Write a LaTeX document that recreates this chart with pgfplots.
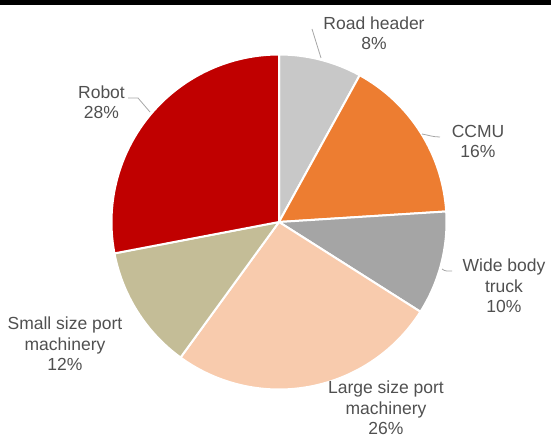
\documentclass[border=0pt]{standalone}
\usepackage{pgfplots}
\pgfplotsset{compat=1.18}
\usepackage{pgfplotstable}
\usepackage{fontspec}
\setmainfont{Liberation Sans}

\definecolor{roadheader}{HTML}{C8C8C8}
\definecolor{ccmu}{HTML}{ED7D31}
\definecolor{widebody}{HTML}{A5A5A5}
\definecolor{largeport}{HTML}{F8CBAD}
\definecolor{smallport}{HTML}{C4BD97}
\definecolor{robot}{HTML}{C00000}
\definecolor{labeltext}{HTML}{505050}
\definecolor{leader}{HTML}{A6A6A6}

% share of each machine segment, in per cent, clockwise from twelve o'clock
\pgfplotstableread[col sep=comma]{
segment,share,colour
Road header,8,roadheader
CCMU,16,ccmu
Wide body truck,10,widebody
Large size port machinery,26,largeport
Small size port machinery,12,smallport
Robot,28,robot
}\sharedata

\begin{document}
\begin{tikzpicture}
\useasboundingbox (0,0) rectangle (551pt,434pt);
\begin{axis}[
  at={(0,0)}, anchor=south west,
  scale only axis, width=551pt, height=434pt,
  xmin=0, xmax=551, ymin=0, ymax=434,
  hide axis, clip=false,
]
  % rule across the top
  \fill[black] (axis cs:0,429) rectangle (axis cs:551,434);

  % pie slices built from the shares
  \pgfmathsetmacro\startangle{90}
  \pgfplotsforeachungrouped \r in {0,1,2,3,4,5}{%
    \pgfplotstablegetelem{\r}{share}\of\sharedata
    \pgfmathsetmacro\endangle{\startangle-3.6*\pgfplotsretval}%
    \pgfplotstablegetelem{\r}{colour}\of\sharedata
    \edef\slice{\noexpand\fill[\pgfplotsretval, draw=white, line width=2pt, line join=round]
      (axis cs:279,212) -- ++(\startangle:167.5pt)
      arc[start angle=\startangle, end angle=\endangle, radius=167.5pt] -- cycle;}%
    \slice
    \global\let\startangle\endangle
  }

  % leader lines
  \draw[leader, line width=0.8pt] (axis cs:312,405) -- (axis cs:321,376);
  \draw[leader, line width=0.8pt] (axis cs:422,300) to[out=-10,in=180] (axis cs:440,297);
  \draw[leader, line width=0.8pt] (axis cs:442,165) to[out=-40,in=180] (axis cs:452,163);
  \draw[leader, line width=0.8pt] (axis cs:128,336) -- (axis cs:138,336) -- (axis cs:150,322);

  % data labels
  \begin{scope}[every node/.style={align=center, inner sep=0pt, text=labeltext,
      font=\fontsize{17.5}{20.5}\selectfont}]
    \node at (axis cs:374,401) {Road header\\8\%};
    \node at (axis cs:478,292.5) {CCMU\\16\%};
    \node at (axis cs:504,148) {Wide body\\truck\\10\%};
    \node at (axis cs:386,26) {Large size port\\machinery\\26\%};
    \node at (axis cs:65,90) {Small size port\\machinery\\12\%};
    \node at (axis cs:101.5,332) {Robot\\28\%};
  \end{scope}
\end{axis}
\end{tikzpicture}
\end{document}
